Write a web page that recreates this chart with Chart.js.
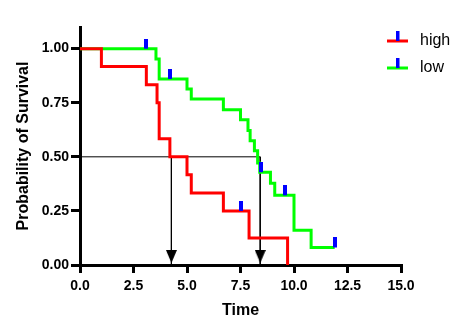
<!DOCTYPE html>
<html>
<head>
<meta charset="utf-8">
<script src="https://cdn.jsdelivr.net/npm/chart.js@4/dist/chart.umd.min.js"></script>
<style>
  body { margin: 0; background: #fff; }
  canvas { display: block; }
</style>
</head>
<body>
<canvas id="myChart" width="466" height="335"></canvas>
<script>
// Kaplan-Meier curves
let groups = ['high', 'low'];
let colorHex = ['#FF0000', '#00FF00'];

let highTime = [0, 1.0, 3.1, 3.6, 3.7, 4.2, 5.0, 5.2, 6.7, 7.9, 9.7];
let highSurv = [1, 0.917, 0.833, 0.75, 0.583, 0.5, 0.417, 0.333, 0.25, 0.125, 0];
let highCensorTime = [7.5];
let highCensorSurv = [0.25];

let lowTime = [0, 3.55, 3.7, 5.0, 5.2, 6.7, 7.5, 7.85, 7.95, 8.15, 8.3, 8.4, 8.9, 9.1, 10.0, 10.8, 11.9];
let lowSurv = [1, 0.952, 0.86, 0.813, 0.767, 0.718, 0.671, 0.622, 0.574, 0.528, 0.471, 0.429, 0.378, 0.322, 0.161, 0.081, 0.081];
let lowCensorTime = [3.1, 4.2, 8.48, 9.6, 11.9];
let lowCensorSurv = [1, 0.86, 0.429, 0.322, 0.081];

let medianTime = [4.27, 8.42];
let medianLevel = 0.5;

let xTicks = [0, 2.5, 5, 7.5, 10, 12.5, 15];
let yTicks = [0, 0.25, 0.5, 0.75, 1];

function pts(xs, ys) {
    return xs.map((x, i) => ({x: x, y: ys[i]}));
}

// censor tick: blue bar sitting on top of the curve
function censorMark() {
    let c = document.createElement('canvas');
    c.width = 4; c.height = 20;
    let g = c.getContext('2d');
    g.fillStyle = '#0000FF';
    g.fillRect(0, 0, 4, 10);
    return c;
}

// arrow head whose tip sits just above the x axis
function arrowMark() {
    let c = document.createElement('canvas');
    c.width = 11; c.height = 30;
    let g = c.getContext('2d');
    g.fillStyle = '#000';
    g.beginPath();
    g.moveTo(0, 0);
    g.lineTo(11, 0);
    g.lineTo(5.5, 13);
    g.closePath();
    g.fill();
    return c;
}

let legendPlugin = {
    id: 'kmLegend',
    afterDraw(chart) {
        let c = chart.ctx;
        c.save();
        groups.forEach((name, i) => {
            let y = 41 + i * 27;
            c.strokeStyle = colorHex[i];
            c.lineWidth = 3;
            c.beginPath();
            c.moveTo(387, y);
            c.lineTo(408, y);
            c.stroke();
            c.fillStyle = '#0000FF';
            c.fillRect(396, y - 10, 3.5, 10);
            c.fillStyle = '#000';
            c.font = '16px "Liberation Sans", Arial, sans-serif';
            c.textBaseline = 'middle';
            c.fillText(name, 420, y - 0.5);
        });
        c.restore();
    }
};

let ctx = document.getElementById('myChart').getContext('2d');
Chart.defaults.font.family = '"Liberation Sans", Arial, sans-serif';
Chart.defaults.color = '#000';

let myChart = new Chart(ctx, {
    type: 'scatter',
    data: {
        datasets: [{
            label: 'high censored',
            data: pts(highCensorTime, highCensorSurv),
            pointStyle: censorMark(),
            showLine: false
        }, {
            label: 'low censored',
            data: pts(lowCensorTime, lowCensorSurv),
            pointStyle: censorMark(),
            showLine: false
        }, {
            label: 'median arrows',
            data: medianTime.map(t => ({x: t, y: 0})),
            pointStyle: arrowMark(),
            showLine: false
        }, {
            label: groups[0],
            data: pts(highTime, highSurv),
            borderColor: colorHex[0],
            borderWidth: 3,
            showLine: true,
            stepped: true,
            pointRadius: 0
        }, {
            label: groups[1],
            data: pts(lowTime, lowSurv),
            borderColor: colorHex[1],
            borderWidth: 3,
            showLine: true,
            stepped: true,
            pointRadius: 0
        }, {
            label: 'median low',
            data: [{x: 0, y: medianLevel}, {x: medianTime[1], y: medianLevel}, {x: medianTime[1], y: 0}],
            borderColor: '#000',
            borderWidth: 1,
            showLine: true,
            pointRadius: 0
        }, {
            label: 'median high',
            data: [{x: medianTime[0], y: medianLevel}, {x: medianTime[0], y: 0}],
            borderColor: '#000',
            borderWidth: 1,
            showLine: true,
            pointRadius: 0
        }]
    },
    options: {
        responsive: false,
        animation: false,
        devicePixelRatio: 1,
        layout: { padding: { left: 0, top: 27, right: 65, bottom: 0 } },
        plugins: {
            legend: { display: false },
            tooltip: { enabled: false }
        },
        scales: {
            x: {
                type: 'linear',
                min: 0,
                max: 15,
                afterBuildTicks: s => { s.ticks = xTicks.map(v => ({value: v})); },
                afterFit: s => { s.height = 70; },
                grid: { display: true, drawOnChartArea: false, drawTicks: true, tickLength: 8, lineWidth: 3, color: '#000' },
                border: { display: true, width: 3, color: '#000' },
                ticks: {
                    padding: 5,
                    font: { size: 14, weight: 'bold' },
                    callback: v => v.toFixed(1)
                },
                title: {
                    display: true,
                    text: 'Time',
                    font: { size: 16, weight: 'bold' },
                    padding: { top: 0, bottom: 15 }
                }
            },
            y: {
                type: 'linear',
                min: 0,
                max: 1.1,
                afterBuildTicks: s => { s.ticks = yTicks.map(v => ({value: v})); },
                afterFit: s => { s.width = 80; },
                grid: { display: true, drawOnChartArea: false, drawTicks: true, tickLength: 9, lineWidth: 3, color: '#000' },
                border: { display: true, width: 3, color: '#000' },
                ticks: {
                    padding: 2,
                    font: { size: 14, weight: 'bold' },
                    callback: v => v.toFixed(2)
                },
                title: {
                    display: true,
                    text: 'Probability of Survival',
                    font: { size: 16, weight: 'bold' },
                    padding: { top: 14, bottom: 0 }
                }
            }
        }
    },
    plugins: [legendPlugin]
});
</script>
</body>
</html>
